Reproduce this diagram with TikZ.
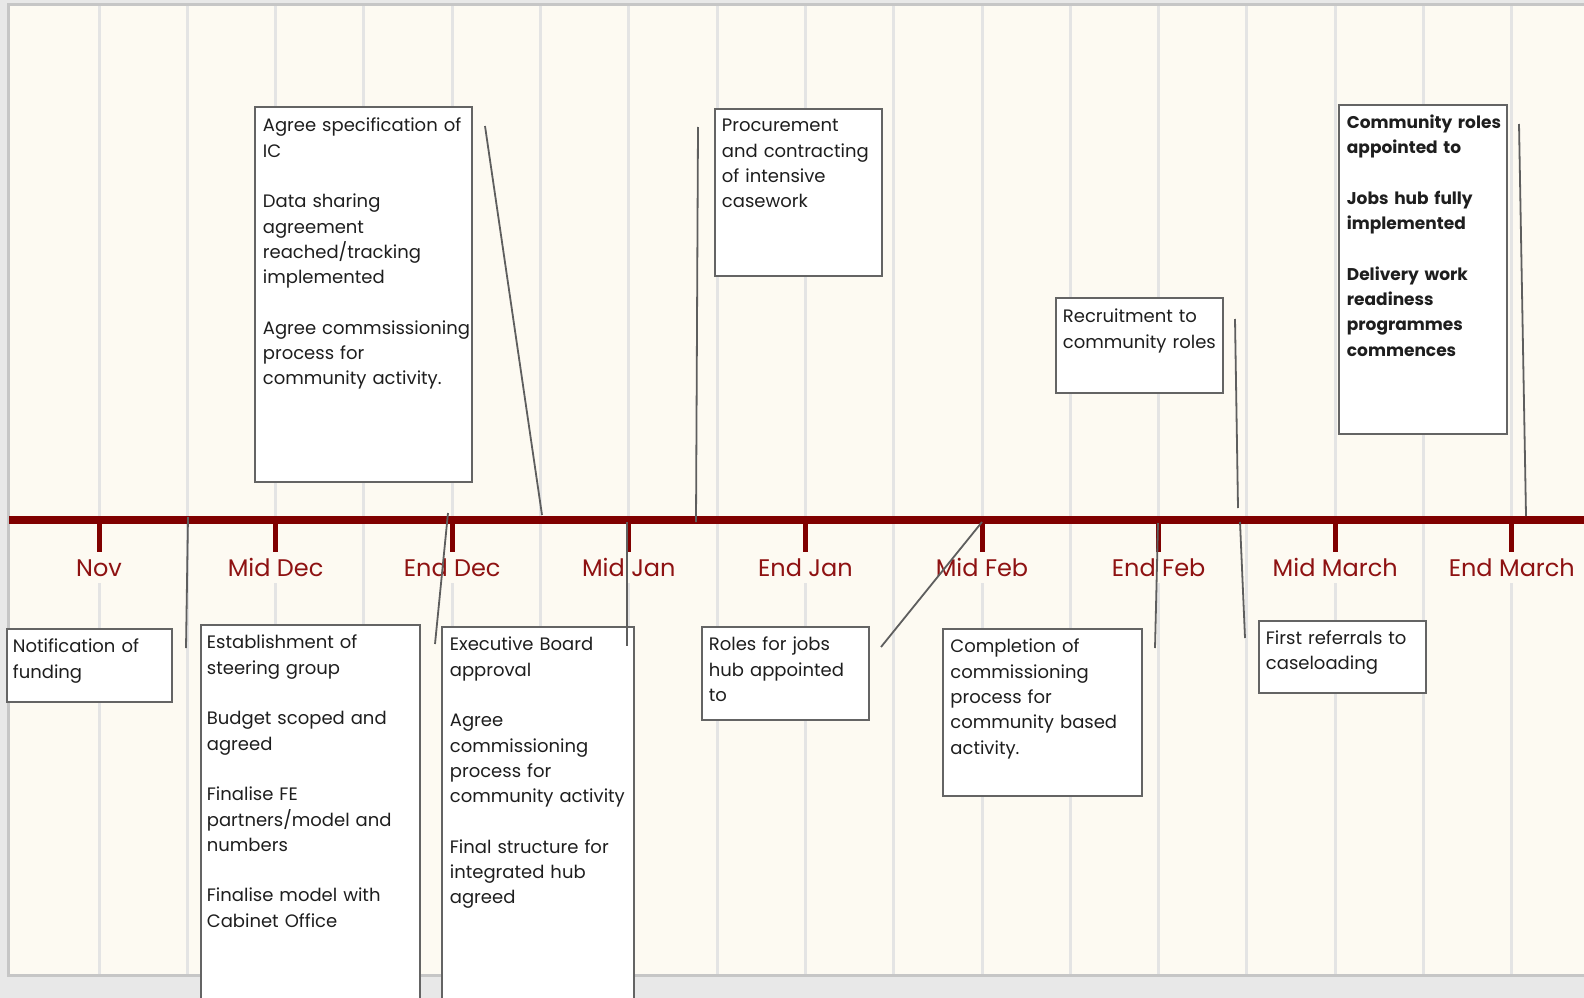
\documentclass[tikz,border=0pt]{standalone}
\usepackage{fontspec}
\setmainfont{Poppins}
\definecolor{outergray}{HTML}{E8E8E8}
\definecolor{paneledge}{HTML}{C6C6C6}
\definecolor{cream}{HTML}{FDFAF2}
\definecolor{gridgray}{HTML}{E4E4E4}
\definecolor{barred}{HTML}{800000}
\definecolor{labelred}{HTML}{8E1212}
\definecolor{boxgray}{HTML}{646464}
\definecolor{boxtext}{HTML}{1E1E1E}
\definecolor{conngray}{HTML}{5E5E5E}
\newcommand\bgap{\\[\baselineskip]}
\begin{document}
\begin{tikzpicture}[x=1pt,y=-1pt,
  grid/.style={draw=gridgray, line width=3pt},
  bar/.style={draw=barred, line width=8pt},
  tick/.style={draw=barred, line width=5pt},
  mlabel/.style={anchor=base, fill=cream, inner xsep=3pt, inner ysep=0pt,
    text height=24pt, text depth=7pt, text=labelred,
    font=\fontsize{24}{28}\selectfont},
  tbox/.style n args={4}{draw=boxgray, line width=1.8pt, fill=white,
    anchor=north west, inner sep=0pt, align=left, text=boxtext,
    font=\fontsize{18}{25.3}\selectfont,
    text width=#1pt, text height=#3pt, text depth=#2pt,
    execute at begin node={\leftskip=#4pt\rightskip=-40pt plus 1fil\hyphenpenalty=10000\exhyphenpenalty=10000\relax}},
  boldtext/.style={font=\fontsize{17}{25.3}\selectfont\bfseries},
  conn/.style={draw=conngray, line width=1.8pt}]
\useasboundingbox (0,0) rectangle (1584,998);
\clip (0,0) rectangle (1584,998);
\fill[outergray] (0,0) rectangle (1584,998);
\draw[fill=cream, draw=paneledge, line width=3pt] (8.5,4.5) rectangle (1600,975.5);
% grid lines
\foreach \k in {0,...,16} \draw[grid] ({99+88.3*\k},6) -- ({99+88.3*\k},974);
% time axis
\draw[bar] (9,520) -- (1584,520);
\foreach \j in {0,...,8} \draw[tick] ({99+176.6*\j},522) -- ({99+176.6*\j},552);
\foreach \j/\t in {0/Nov,1/Mid Dec,2/End Dec,3/Mid Jan,4/End Jan,5/Mid Feb,6/End Feb,7/Mid March,8/End March}
  \node[mlabel] (lab\j) at ({99+176.6*\j},576) {\t};
% boxes below
\node[tbox={165}{49}{24}{6}] (notif) at (6,628) {Notification of\\funding};
\node[tbox={219}{376}{24}{6}] (estab) at (200,624) {Establishment of\\steering group\bgap Budget scoped and\\agreed\bgap Finalise FE\\partners/model and\\numbers\bgap Finalise model with\\Cabinet Office};
\node[tbox={192}{376}{24}{8}] (exec) at (441,626) {Executive Board\\approval\bgap Agree\\commissioning\\process for\\community activity\bgap Final structure for\\integrated hub\\agreed};
\node[tbox={167}{69}{24}{7}] (roles) at (701,626) {Roles for jobs\\hub appointed\\to};
\node[tbox={199}{143}{24}{7.5}] (compl) at (942,628) {Completion of\\commissioning\\process for\\community based\\activity.};
\node[tbox={167}{48.5}{23.5}{7}] (refer) at (1258,620) {First referrals to\\caseloading};
% boxes above
\node[tbox={217}{350}{25}{8}] (spec) at (254,106) {Agree specification of\\IC\bgap Data sharing\\agreement\\reached/tracking\\implemented\bgap Agree commsissioning\\process for\\community activity.};
\node[tbox={167}{144}{23}{7}] (procure) at (714,108) {Procurement\\and contracting\\of intensive\\casework};
\node[tbox={167}{70}{25}{7}] (recruit) at (1055,297) {Recruitment to\\community roles};
\node[tbox={168}{305.5}{23.5}{8}, boldtext] (comm) at (1338,104) {Community roles\\appointed to\bgap Jobs hub fully\\implemented\bgap Delivery work\\readiness\\programmes\\commences};
% connector end points
\coordinate (c1a) at (188,517);  \coordinate (c1b) at (186,648);
\coordinate (c2a) at (448,513);  \coordinate (c2b) at (435,644);
\coordinate (c3a) at (485,126);  \coordinate (c3b) at (542,515);
\coordinate (c4a) at (627,522);  \coordinate (c4b) at (627,646);
\coordinate (c5a) at (698,127);  \coordinate (c5b) at (696,522);
\coordinate (c6a) at (881,647);  \coordinate (c6b) at (982,522);
\coordinate (c7a) at (1158,523); \coordinate (c7b) at (1155,648);
\coordinate (c8a) at (1235,319); \coordinate (c8b) at (1238,508);
\coordinate (c9a) at (1240,522); \coordinate (c9b) at (1245,638);
\coordinate (c10a) at (1519,124); \coordinate (c10b) at (1526,516);
\foreach \i in {1,...,10} \draw[conn] (c\i a) -- (c\i b);
\end{tikzpicture}
\end{document}
